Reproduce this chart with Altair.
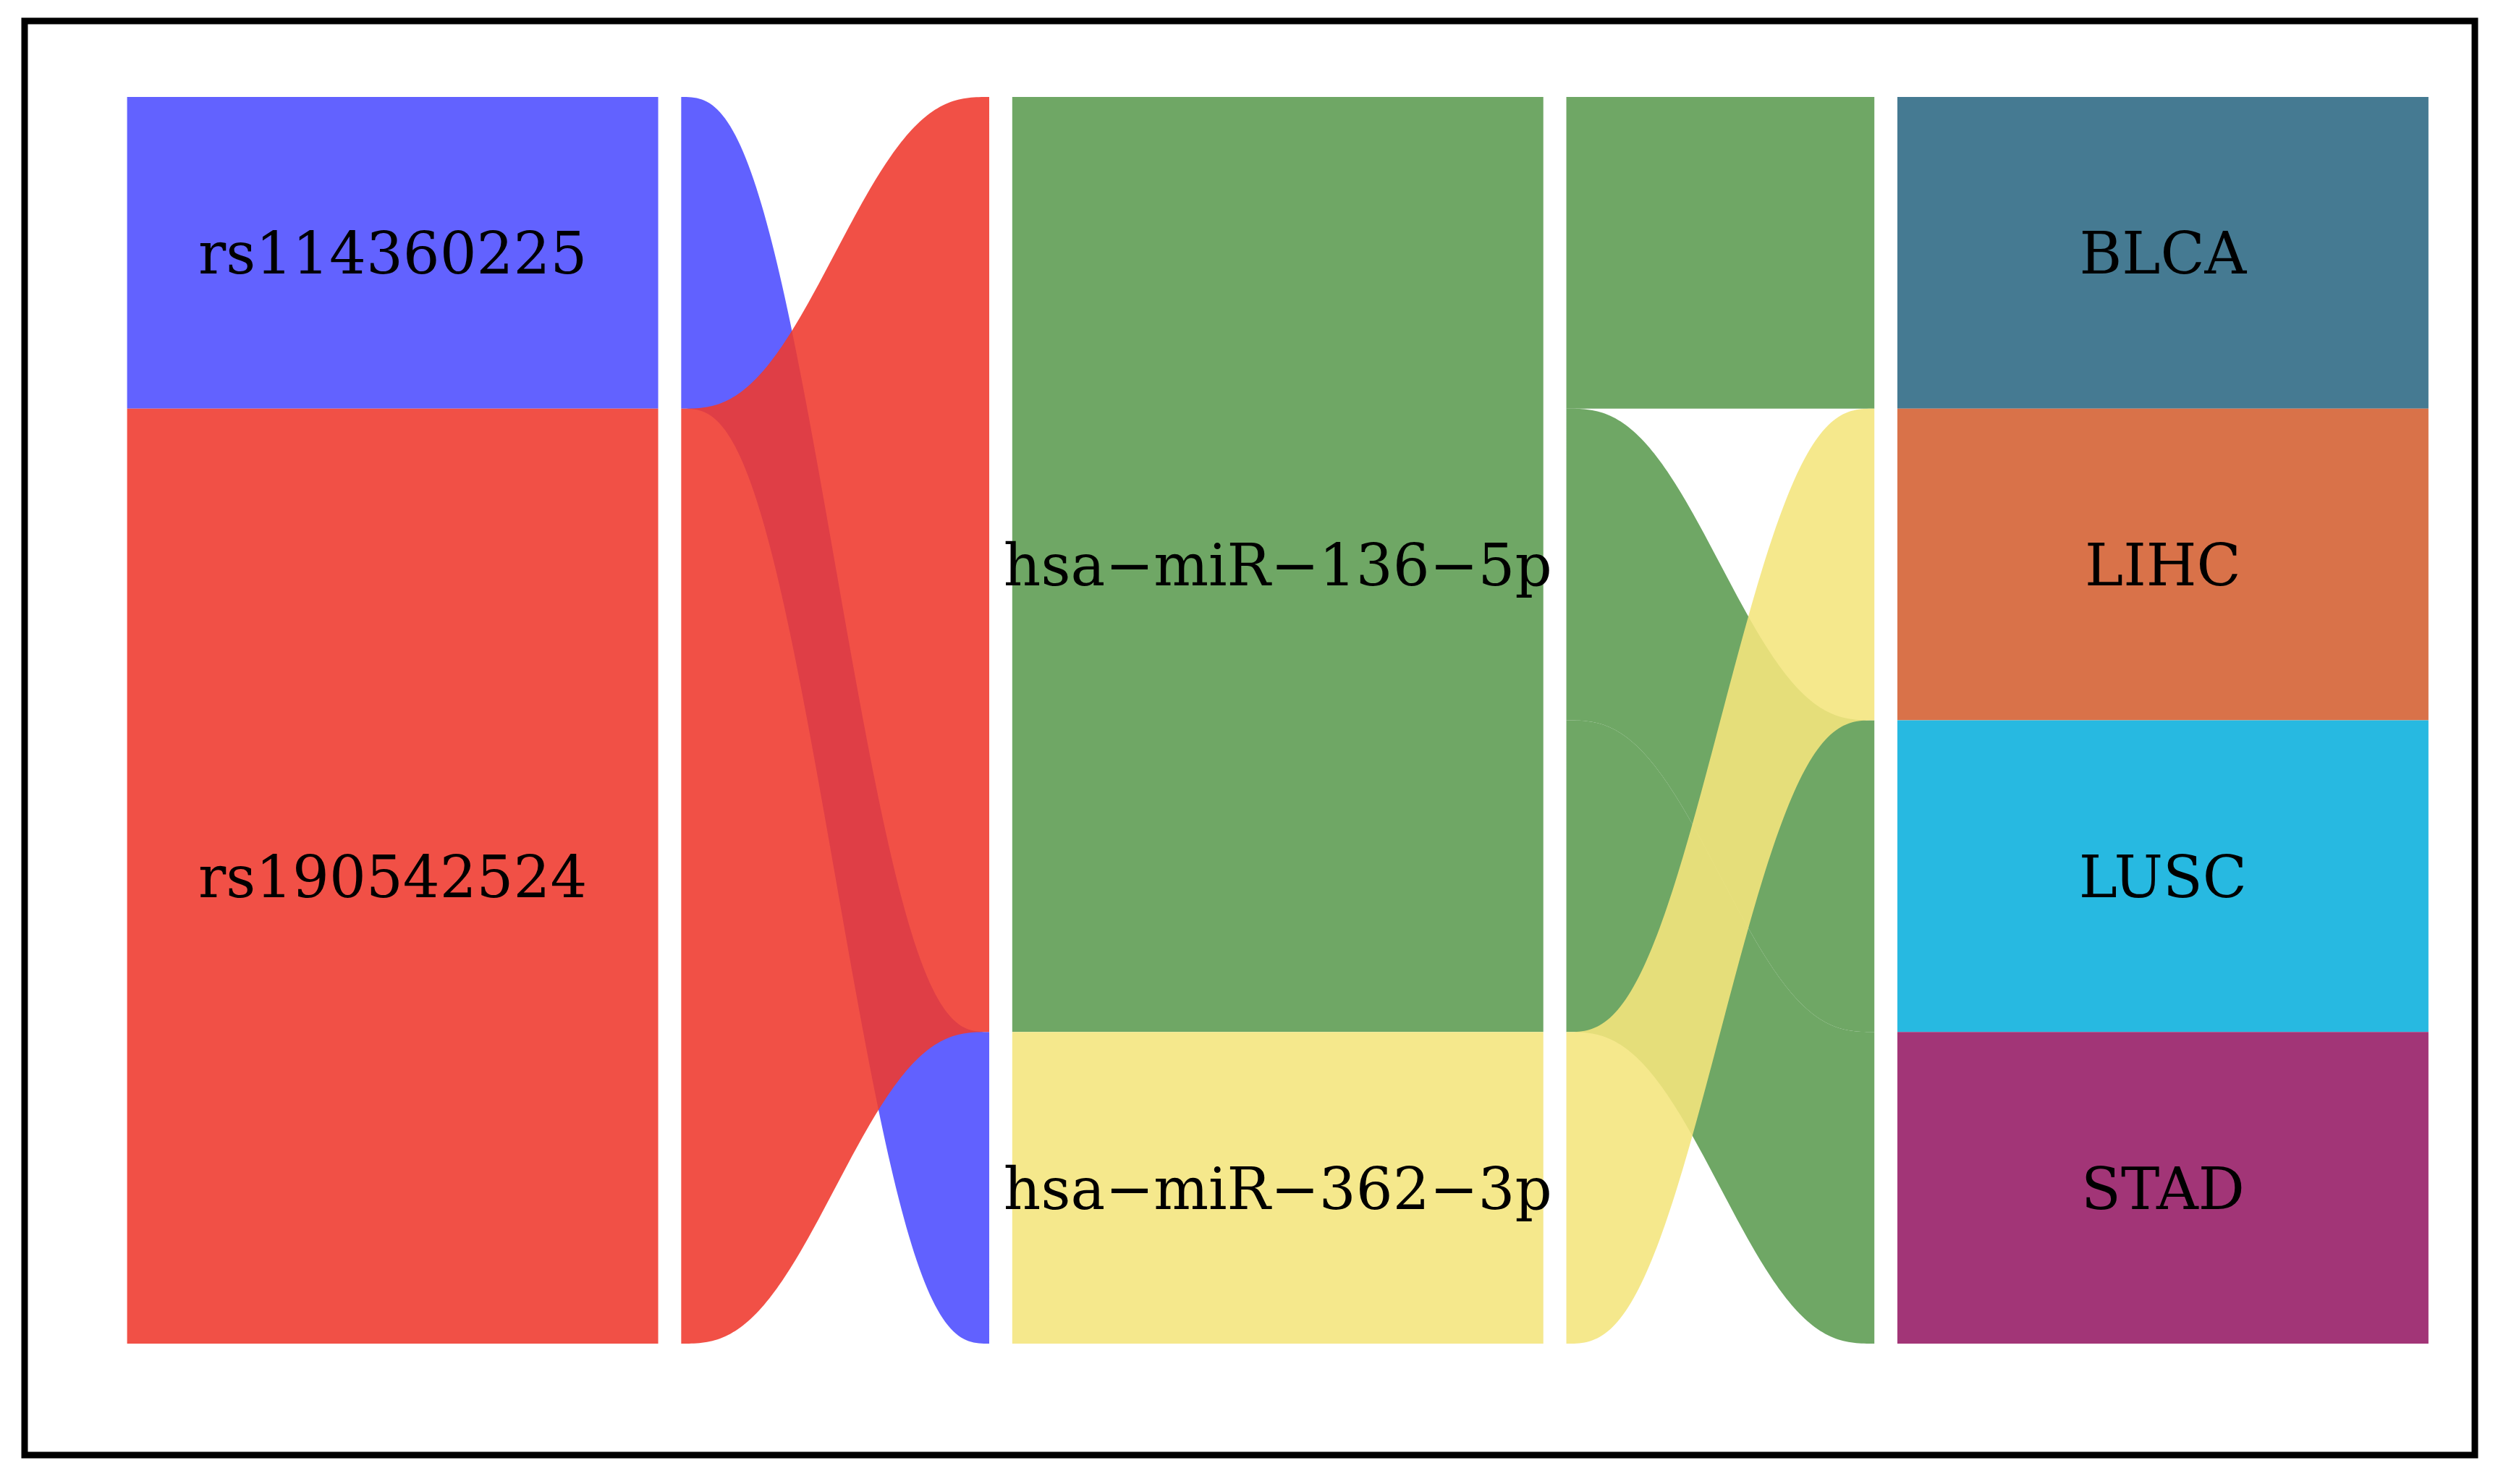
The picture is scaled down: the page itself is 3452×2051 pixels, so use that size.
import altair as alt
import pandas as pd
import numpy as np

# ---- data (one row per alluvium) ----
snp = ["rs114360225", "rs190542524", "rs190542524", "rs190542524"]
mirna = ["hsa\u2212miR\u2212362\u22123p", "hsa\u2212miR\u2212136\u22125p",
         "hsa\u2212miR\u2212136\u22125p", "hsa\u2212miR\u2212136\u22125p"]
cancer = ["LIHC", "BLCA", "LUSC", "STAD"]
freq = [1, 1, 1, 1]

snp_levels = ["rs114360225", "rs190542524"]
mirna_levels = ["hsa\u2212miR\u2212136\u22125p", "hsa\u2212miR\u2212362\u22123p"]
cancer_levels = ["BLCA", "LIHC", "LUSC", "STAD"]

# stratum fills
snp_colors = ["#6262FF", "#F15046"]
mirna_colors = ["#6FA765", "#F5E88C"]
cancer_colors = ["#457A92", "#D97249", "#27B9E1", "#A23577"]
# flow fills (drawn semi-transparent)
snp_flow_colors = ["#4D4DFF", "#EF3A2E"]
mirna_flow_colors = ["#5D9C51", "#F4E57D"]
FLOW_OPACITY = 0.887

axes_values = [snp, mirna, cancer]
axes_levels = [snp_levels, mirna_levels, cancer_levels]
axes_colors = [snp_colors, mirna_colors, cancer_colors]
flow_colors = [snp_flow_colors, mirna_flow_colors]

STRATUM_HALF = 0.30
FLOW_GAP = 0.326
n_all = len(freq)
total = sum(freq)
idx = [[axes_levels[k].index(v) for v in axes_values[k]] for k in range(3)]

# alluvium positions on each axis
ytop = [[0.0] * n_all for _ in range(3)]
ybot = [[0.0] * n_all for _ in range(3)]
for k in range(3):
    order = sorted(range(n_all), key=lambda a: (idx[k][a], idx[0][a], idx[1][a], idx[2][a]))
    cur = total
    for a in order:
        ytop[k][a] = cur
        ybot[k][a] = cur - freq[a]
        cur -= freq[a]

# strata rectangles + labels
strata_rows = []
for k in range(3):
    cur = total
    for j, lev in enumerate(axes_levels[k]):
        cnt = sum(f for f, v in zip(freq, axes_values[k]) if v == lev)
        strata_rows.append(dict(x=k + 1 - STRATUM_HALF, x2=k + 1 + STRATUM_HALF,
                                xc=k + 1, y=cur - cnt, y2=cur, yc=cur - cnt / 2,
                                label=lev, fill=axes_colors[k][j]))
        cur -= cnt
strata = pd.DataFrame(strata_rows)

# flows: alluvia merged per (left stratum, right stratum) pair in each segment
t = np.linspace(0, 1, 120)
s = 6 * t**5 - 15 * t**4 + 10 * t**3
flow_rows = []
for seg in range(2):
    x0 = seg + 1 + FLOW_GAP
    x1 = seg + 2 - FLOW_GAP
    pairs = {}
    for a in range(n_all):
        key = (idx[seg][a], idx[seg + 1][a])
        pairs.setdefault(key, []).append(a)
    for (zl, zr), members in pairs.items():
        lt = max(ytop[seg][a] for a in members)
        lb = min(ybot[seg][a] for a in members)
        rt = max(ytop[seg + 1][a] for a in members)
        rb = min(ybot[seg + 1][a] for a in members)
        col = flow_colors[seg][zl]
        for ti, si in zip(t, s):
            flow_rows.append(dict(
                fid=f"{seg}-{zl}-{zr}", z=zl,
                x=x0 + (x1 - x0) * ti,
                ylo=lb + (rb - lb) * si,
                yhi=lt + (rt - lt) * si,
                fill=col))
flows = pd.DataFrame(flow_rows)

xs = alt.Scale(domain=[0.5842, 3.3524], nice=False, zero=False)
ys = alt.Scale(domain=[-0.3575, 4.2438], nice=False, zero=False)

rects = alt.Chart(strata).mark_rect().encode(
    x=alt.X("x:Q", scale=xs, axis=None),
    x2="x2:Q",
    y=alt.Y("y:Q", scale=ys, axis=None),
    y2="y2:Q",
    color=alt.Color("fill:N", scale=None),
)

flow_layers = []
for z in range(2):
    flow_layers.append(
        alt.Chart(flows[flows.z == z]).mark_area(opacity=FLOW_OPACITY).encode(
            x=alt.X("x:Q", scale=xs, axis=None),
            y=alt.Y("ylo:Q", scale=ys, axis=None),
            y2="yhi:Q",
            detail="fid:N",
            color=alt.Color("fill:N", scale=None),
        )
    )

labels = alt.Chart(strata).mark_text(
    font="DejaVu Serif", fontSize=80, color="black", align="center",
    baseline="middle", dy=5
).encode(
    x=alt.X("xc:Q", scale=xs, axis=None),
    y=alt.Y("yc:Q", scale=ys, axis=None),
    text="label:N",
)

chart = alt.layer(rects, *flow_layers, labels).properties(
    width=3386, height=1982,
    autosize=alt.AutoSizeParams(type="none"),
    padding={"left": 26, "top": 21, "right": 20, "bottom": 20},
    background="white",
).configure_view(stroke="black", strokeWidth=9)

chart.save("out.html", embed_options={"renderer": "svg", "actions": False})
